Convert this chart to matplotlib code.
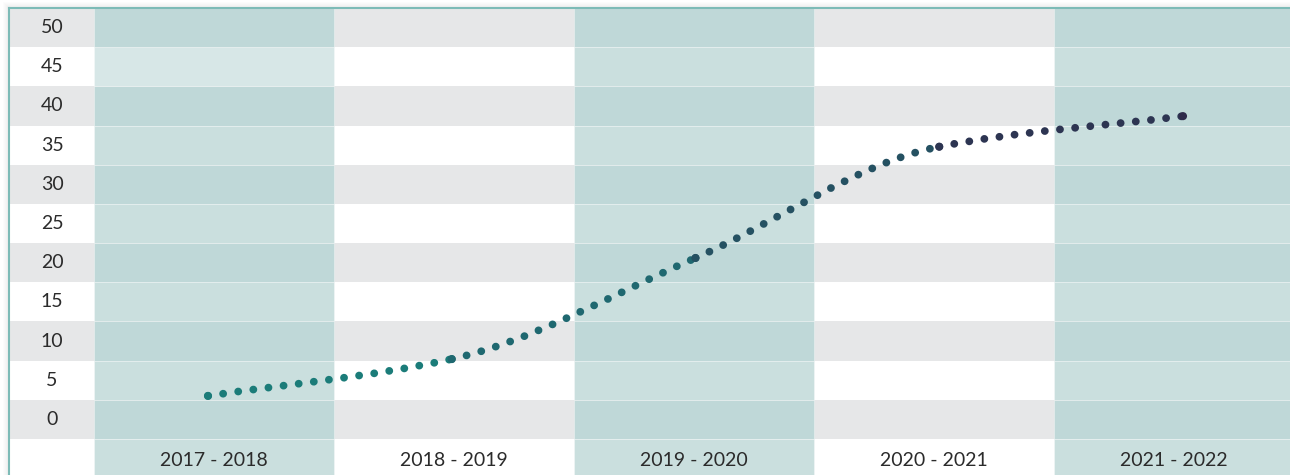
import numpy as np
import matplotlib.pyplot as plt
from matplotlib.path import Path
from matplotlib.patches import PathPatch, Rectangle

# data
seasons = ['2017 - 2018', '2018 - 2019', '2019 - 2020', '2020 - 2021', '2021 - 2022']
values = [3.0, 7.7, 20.6, 34.8, 38.7]
y_ticks = [0, 5, 10, 15, 20, 25, 30, 35, 40, 45, 50]

GREY = '#e6e7e8'
TEAL_DARK = '#bfd8d8'
TEAL_LIGHT = '#cadfde'
TEAL_PALE = '#d7e7e7'
FRAME = '#7dbbb7'
TEXT = '#2b2b2b'
EDGE = (1, 1, 1, 0.45)
seg_colors = ['#1b7c79', '#1f6870', '#255162', '#2d3552']
end_color = '#2e2a4a'

plt.rcParams['font.family'] = ['Lato', 'DejaVu Sans']

W, H = 1290, 475
fig = plt.figure(figsize=(W / 100, H / 100), dpi=100)
fig.patch.set_facecolor('white')

# soft shadow round the frame
for k in range(1, 7):
    fig.add_artist(Rectangle(((9 - k) / W, 0), 1, (467 + k) / H,
                             transform=fig.transFigure, facecolor='#000000',
                             alpha=0.012, edgecolor='none', zorder=0))

ax = fig.add_axes([9 / W, 0, 1 - 9 / W, 467 / H])
ax.set_facecolor('white')

band_px = 431 / 11 / 5          # pixels per unit on the y scale
x_left = -0.5 - 85 / 240
x_right = -0.5 + (W - 94) / 240
y_top = 52.5
y_bottom = y_top - 467 / band_px
ax.set_xlim(x_left, x_right)
ax.set_ylim(y_bottom, y_top)

# background grid of bands
for v in y_ticks:
    grey_row = (v // 5) % 2 == 0
    if grey_row:
        ax.add_patch(Rectangle((x_left, v - 2.5), x_right - x_left, 5,
                               facecolor=GREY, edgecolor='none', zorder=1))
    for i in range(len(seasons)):
        if i % 2 == 0:
            c = TEAL_DARK if grey_row else TEAL_LIGHT
            if i == 0 and v == 45:
                c = TEAL_PALE
            ax.add_patch(Rectangle((i - 0.5, v - 2.5), 1, 5,
                                   facecolor=c, edgecolor=EDGE, lw=0.5, zorder=2))
for i in range(0, len(seasons), 2):
    ax.add_patch(Rectangle((i - 0.5, y_bottom), 1, -2.5 - y_bottom,
                           facecolor=TEAL_LIGHT, edgecolor=EDGE, lw=0.5, zorder=2))

# labels
for v in y_ticks:
    ax.text(-0.675, v, str(v), ha='center', va='center', fontsize=14, color=TEXT, zorder=5)
for i, s in enumerate(seasons):
    ax.text(i, -5.3, s, ha='center', va='center', fontsize=14, color=TEXT, zorder=5)

ax.set_xticks([])
ax.set_yticks([])
for side in ['right', 'bottom']:
    ax.spines[side].set_visible(False)
for side in ['top', 'left']:
    ax.spines[side].set_color(FRAME)
    ax.spines[side].set_linewidth(1.5)
    ax.spines[side].set_zorder(6)

# the line sits on its own, slightly wider x scale
lx = fig.add_axes(ax.get_position(), frameon=False)
step = 243.75
lx_left = -(208 - 9) / step
lx.set_xlim(lx_left, lx_left + (W - 9) / step)
lx.set_ylim(y_bottom, y_top)
lx.set_xticks([])
lx.set_yticks([])

# smooth dotted curve, one bezier piece per season gap
xs = np.arange(len(values), dtype=float)
ys = np.array(values)
d = np.diff(ys) / np.diff(xs)
m = np.empty_like(ys)
m[0], m[-1] = d[0], d[-1]
m[1:-1] = 2 / (1 / d[:-1] + 1 / d[1:])
for i in range(len(d)):
    x0, x1 = xs[i], xs[i + 1]
    h = (x1 - x0) / 3
    verts = [(x0, ys[i]), (x0 + h, ys[i] + m[i] * h),
             (x1 - h, ys[i + 1] - m[i + 1] * h), (x1, ys[i + 1])]
    path = Path(verts, [Path.MOVETO, Path.CURVE4, Path.CURVE4, Path.CURVE4])
    lx.add_patch(PathPatch(path, fill=False, edgecolor=seg_colors[i], lw=5.6,
                           linestyle=(0, (0.01, 1.95)), capstyle='round', zorder=4))
lx.scatter(xs, ys, s=34, c=seg_colors + [end_color], edgecolors='none', zorder=5)

fig.savefig('out.png', dpi=100)
